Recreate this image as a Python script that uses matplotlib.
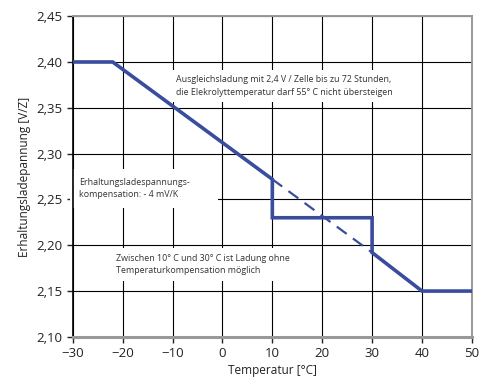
import numpy as np
import matplotlib
matplotlib.use("Agg")
import matplotlib.pyplot as plt

plt.rcParams['font.family'] = ['Open Sans', 'DejaVu Sans']

# Erhaltungsladespannung (Kennlinie)
temp = [-30, -22, 10, 10, 30, 30, 40, 50]
volt = [2.40, 2.40, 2.272, 2.23, 2.23, 2.192, 2.15, 2.15]

# ohne Stufe (gestrichelt)
temp_d = [10, 30]
volt_d = [2.272, 2.192]

xticks = [-30, -20, -10, 0, 10, 20, 30, 40, 50]
yticks = [2.10, 2.15, 2.20, 2.25, 2.30, 2.35, 2.40, 2.45]
ylabels = ["2,10", "2,15", "2,20", "2,25", "2,30", "2,35", "2,40", "2,45"]

blue = "#3a4c9e"
txt = "#333333"

fig = plt.figure(figsize=(4.82, 3.85), dpi=100)
ax = fig.add_axes([0.151, 0.125, 0.828, 0.833])

ax.set_xlim(-30, 50)
ax.set_ylim(2.10, 2.45)
ax.set_xticks(xticks)
ax.set_yticks(yticks)
ax.set_yticklabels(ylabels)
ax.grid(True, color="black", linewidth=0.8)
ax.set_axisbelow(True)

ax.plot(temp, volt, color=blue, linewidth=2.6, solid_joinstyle="miter", zorder=3)
ax.plot(temp_d, volt_d, color=blue, linewidth=1.6, dashes=(5.5, 3.5), zorder=3)

ax.spines['left'].set_color("black")
ax.spines['left'].set_linewidth(1.2)
for s in ['top', 'right']:
    ax.spines[s].set_color("#999999")
    ax.spines[s].set_linewidth(1.4)
ax.spines['bottom'].set_color("#999999")
ax.spines['bottom'].set_linewidth(2.2)

ax.tick_params(axis='both', labelsize=9.5, colors="#222222", length=4, width=1)
ax.tick_params(axis='x', pad=3)

ax.set_xlabel("Temperatur [°C]", fontsize=8.5, color="#222222", labelpad=3)
ax.set_ylabel("Erhaltungsladepannung [V/Z]", fontsize=8.5, color="#222222", labelpad=4)

box = dict(facecolor="white", edgecolor="none", pad=4)
ax.text(-9.4, 2.374, "Ausgleichsladung mit 2,4 V / Zelle bis zu 72 Stunden,\n"
        "die Elekrolyttemperatur darf 55° C nicht übersteigen",
        fontsize=6.4, color=txt, va="center", ha="left", linespacing=1.5,
        bbox=box, zorder=2)
ax.text(-28.8, 2.262, "Erhaltungsladespannungs-\nkompensation: - 4 mV/K              ",
        fontsize=6.4, color=txt, va="center", ha="left", linespacing=1.5,
        bbox=dict(facecolor="white", edgecolor="none", pad=6), zorder=2)
ax.text(-21.3, 2.179, "Zwischen 10° C und 30° C ist Ladung ohne\n"
        "Temperaturkompensation möglich",
        fontsize=6.4, color=txt, va="center", ha="left", linespacing=1.5,
        bbox=box, zorder=2)

fig.savefig("out.png", dpi=100)
